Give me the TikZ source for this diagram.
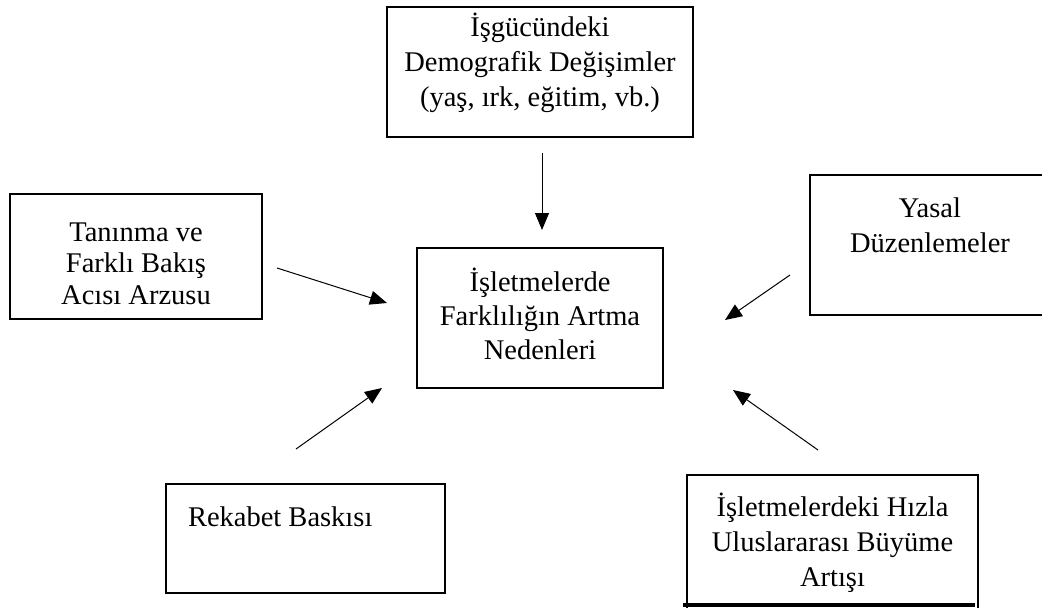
\documentclass[tikz,border=0pt]{standalone}
\usepackage{fontspec}
\setmainfont{Liberation Serif}
\usetikzlibrary{arrows.meta}
% fixed-size box, text hung from the top
\newcommand{\boxtext}[4]{\parbox[c][#2][t]{#1}{\centering\rule{0pt}{#3}#4}}

\begin{document}
\begin{tikzpicture}[
  x=1pt, y=-1pt,
  >={Triangle[length=17pt,width=14pt]},
  every node/.style={font=\fontsize{28.5}{35}\selectfont},
  cbox/.style={draw=black,line width=2pt,inner sep=0pt},
  arr/.style={->,line width=1pt,black}
]
\useasboundingbox (0,0) rectangle (1042,608);
\clip (0,0) rectangle (1042,608);

\node[cbox] (work) at (540,72) {\boxtext{306pt}{130pt}{29pt}{İşgücündeki\\Demografik Değişimler\\(yaş, ırk, eğitim, vb.)}};
\node[cbox] (recog) at (136,256.5) {\boxtext{252pt}{125pt}{47pt}{\fontsize{28.5}{31.5}\selectfont Tanınma ve\\Farklı Bakış\\Acısı Arzusu}};
\node[cbox] (mid) at (540,318) {\boxtext{246pt}{140pt}{43pt}{\fontsize{28.5}{34}\selectfont İşletmelerde\\Farklılığın Artma\\Nedenleri}};
\node[cbox] (legal) at (930,245) {\boxtext{240pt}{140pt}{42pt}{Yasal\\Düzenlemeler}};
\node[cbox] (compet) at (305.5,538.5) {\boxtext{279pt}{109pt}{42pt}{\raggedright\hspace{22pt}Rekabet Baskısı}};
\node[cbox] (growth) at (832.5,543.5) {\boxtext{291pt}{137pt}{41pt}{İşletmelerdeki Hızla\\Uluslararası Büyüme\\Artışı}};
\draw[line width=4pt] (683,605) -- (975,605);

% arrow ends
\coordinate (wt) at (542,153); \coordinate (wh) at (542,230);
\coordinate (rt) at (277,268); \coordinate (rh) at (387,303);
\coordinate (lt) at (790,275); \coordinate (lh) at (725,320);
\coordinate (ct) at (296,449); \coordinate (ch) at (382,388);
\coordinate (gt) at (818,450); \coordinate (gh) at (733,390);

\draw[arr] (wt) -- (wh);
\draw[arr] (rt) -- (rh);
\draw[arr] (lt) -- (lh);
\draw[arr] (ct) -- (ch);
\draw[arr] (gt) -- (gh);
\end{tikzpicture}
\end{document}
